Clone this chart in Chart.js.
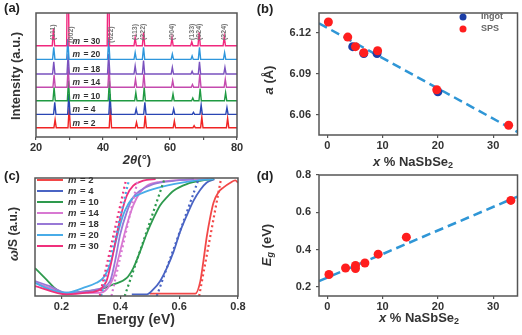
<!DOCTYPE html>
<html>
<head>
<meta charset="utf-8">
<script src="https://cdn.jsdelivr.net/npm/chart.js@4.4.1/dist/chart.umd.min.js"></script>
<style>
html, body { margin: 0; padding: 0; background: #fff; }
#wrap { position: relative; width: 522px; height: 335px; }
canvas { position: absolute; left: 0; top: 0; }
</style>
</head>
<body>
<div id="wrap">
  <canvas id="ca" width="522" height="335"></canvas>
  <canvas id="cb" width="522" height="335"></canvas>
  <canvas id="cc" width="522" height="335"></canvas>
  <canvas id="cd" width="522" height="335"></canvas>
</div>
<script>
const FONT = 'Arial, "Liberation Sans", sans-serif'

// ---- shared series
const mValues = ['2', '4', '10', '14', '18', '20', '30']
const colorsA = ['#f02424', '#2a46b4', '#1f9a42', '#c44aae', '#7a52be', '#2e96dc', '#f0287e']
const colorsC = ['#f24848', '#4a64c4', '#2e9a4e', '#d878d2', '#9878d6', '#48ace8', '#f0307c']

// ---- (a) XRD
const hkl = ['(111)', '(002)', '(022)', '(113)', '(222)', '(004)', '(133)', '(024)', '(224)']
const peaks2 = [25.7, 29.9, 42.2, 50.0, 52.6, 61.3, 67.2, 69.5, 77.2]
const peaks4 = [25.6, 29.8, 42.1, 49.9, 52.5, 61.1, 67.0, 69.3, 77.0]
const peaks10 = [25.4, 29.7, 41.9, 49.8, 52.3, 60.9, 66.8, 69.0, 76.6]
const peaks14 = [25.4, 29.6, 41.8, 49.7, 52.2, 60.8, 66.7, 68.9, 76.5]
const peaks18 = [25.3, 29.6, 41.7, 49.6, 52.1, 60.7, 66.6, 68.8, 76.4]
const peaks20 = [25.3, 29.5, 41.7, 49.6, 52.1, 60.7, 66.6, 68.8, 76.3]
const peaks30 = [25.2, 29.5, 41.6, 49.6, 52.1, 60.6, 66.5, 68.7, 76.2]
const height2 = [0.6, 1.5, 1.5, 0.4, 0.9, 0.5, 0.15, 0.8, 0.7]
const height4 = [0.9, 1.5, 1.5, 0.4, 0.9, 0.4, 0.15, 0.7, 0.5]
const height10 = [1.0, 1.5, 1.5, 0.6, 1.0, 0.5, 0.2, 0.9, 0.6]
const height14 = [0.9, 1.5, 1.5, 0.6, 1.0, 0.5, 0.2, 1.0, 0.6]
const height18 = [0.9, 1.5, 1.5, 0.6, 1.0, 0.5, 0.2, 0.9, 0.5]
const height20 = [0.9, 1.5, 1.5, 0.5, 0.9, 0.4, 0.25, 0.9, 0.5]
const height30 = [1.3, 9.0, 9.0, 0.6, 1.0, 0.6, 0.3, 1.0, 0.7]
const xrdOffsets = [0.69, 1.68, 2.69, 3.69, 4.67, 5.76, 6.77]
const xrdTicks = [20, 30, 40, 50, 60, 70, 80]

// ---- (b) lattice parameter
const ingotX = [4.6, 6.6, 9.0, 20.0]
const ingotY = [6.110, 6.105, 6.105, 6.077]
const spsX = [0.2, 3.7, 5.1, 6.6, 9.1, 19.8, 32.8]
const spsY = [6.128, 6.117, 6.110, 6.1055, 6.107, 6.0785, 6.0525]
const fitBX = [-1.5, 34.4]
const fitBY = [6.1271, 6.0476]
const xTicksBD = [0, 10, 20, 30]
const yTicksB = [6.06, 6.09, 6.12]

// ---- (c) optical absorption (energy, value)
const abs2 = [[0.50, 0.02], [0.655, 0.02], [0.672, 0.127], [0.683, 0.31], [0.694, 0.51], [0.706, 0.68], [0.717, 0.80], [0.734, 0.89], [0.751, 0.93], [0.774, 0.97], [0.791, 0.99], [0.80, 0.97]]
const abs4 = [[0.439, 0.014], [0.49, 0.014], [0.512, 0.056], [0.535, 0.127], [0.558, 0.239], [0.581, 0.38], [0.603, 0.549], [0.626, 0.69], [0.649, 0.817], [0.672, 0.91], [0.694, 0.972], [0.72, 1.0]]
const abs10 = [[0.11, 0.239], [0.149, 0.141], [0.183, 0.056], [0.217, 0.02], [0.274, 0.037], [0.331, 0.056], [0.376, 0.099], [0.422, 0.155], [0.444, 0.239], [0.467, 0.38], [0.49, 0.535], [0.512, 0.662], [0.535, 0.775], [0.558, 0.845], [0.581, 0.901], [0.626, 0.958], [0.672, 0.986], [0.717, 1.0]]
const abs14 = [[0.11, 0.113], [0.16, 0.07], [0.217, 0.02], [0.274, 0.028], [0.331, 0.028], [0.376, 0.155], [0.399, 0.38], [0.422, 0.606], [0.444, 0.775], [0.467, 0.887], [0.49, 0.944], [0.535, 0.977], [0.626, 0.994], [0.70, 1.0]]
const abs18 = [[0.11, 0.127], [0.16, 0.085], [0.217, 0.028], [0.274, 0.037], [0.319, 0.056], [0.365, 0.127], [0.382, 0.296], [0.399, 0.521], [0.422, 0.718], [0.444, 0.845], [0.467, 0.901], [0.512, 0.958], [0.581, 0.986], [0.65, 1.0]]
const abs20 = [[0.11, 0.113], [0.16, 0.056], [0.217, 0.028], [0.274, 0.07], [0.319, 0.113], [0.342, 0.155], [0.365, 0.268], [0.382, 0.437], [0.399, 0.606], [0.416, 0.732], [0.439, 0.831], [0.467, 0.873], [0.512, 0.915], [0.581, 0.958], [0.649, 0.986], [0.717, 1.0]]
const abs30 = [[0.11, 0.085], [0.217, 0.014], [0.285, 0.028], [0.331, 0.056], [0.353, 0.127], [0.37, 0.296], [0.3875, 0.521], [0.405, 0.718], [0.422, 0.859], [0.444, 0.944], [0.467, 0.977], [0.49, 0.994], [0.52, 1.0]]
const edge2 = [[0.668, 0], [0.742, 1.0]]
const edge4 = [[0.524, 0], [0.666, 1.0]]
const edge10 = [[0.415, 0], [0.55, 1.0]]
const edge14 = [[0.37, 0], [0.46, 1.0]]
const edge20 = [[0.335, 0], [0.43, 1.0]]
const edge30 = [[0.33, 0], [0.42, 1.0]]
const xTicksC = [0.2, 0.4, 0.6, 0.8]

// ---- (d) band gap
const gapX = [0.3, 3.3, 5.1, 5.1, 6.8, 9.2, 14.3, 33.2]
const gapY = [0.267, 0.302, 0.299, 0.316, 0.329, 0.376, 0.467, 0.664]
const fitDX = [-1.5, 34.4]
const fitDY = [0.2313, 0.6847]
const yTicksD = [0.2, 0.4, 0.6, 0.8]

// ---------------------------------------------------------------
const pts = (xs, ys) => xs.map((x, i) => ({x, y: ys[i]}))
const pairs = (arr) => arr.map(p => ({x: p[0], y: p[1]}))

const xrdLine = (pos, h, base) => {
  const out = [{x: 20, y: base}]
  pos.forEach((p, i) => {
    out.push({x: p - 0.35, y: base}, {x: p, y: base + h[i]}, {x: p + 0.35, y: base})
  })
  out.push({x: 80, y: base})
  return out
}

const tickFont = {family: FONT, size: 11, weight: 'bold'}
const gridOpts = {drawOnChartArea: false, tickLength: 3, color: '#555', lineWidth: 1.2}

const xAxis = (min, max, ticks, fmt) => ({
  type: 'linear', min, max,
  afterBuildTicks: s => { s.ticks = ticks.map(v => ({value: v})) },
  afterFit: s => { s.height = 20 },
  grid: gridOpts,
  border: {display: false},
  ticks: {font: tickFont, color: '#333', padding: 1, maxRotation: 0, autoSkip: false, callback: fmt}
})

const yAxis = (min, max, ticks, fmt) => ({
  type: 'linear', min, max,
  afterBuildTicks: s => { s.ticks = ticks.map(v => ({value: v})) },
  afterFit: s => { s.width = 40 },
  grid: gridOpts,
  border: {display: false},
  ticks: {font: tickFont, color: '#333', padding: 5, autoSkip: false, callback: fmt}
})

const base = (pad, scales) => ({
  responsive: false, animation: false, devicePixelRatio: 1,
  layout: {padding: pad},
  plugins: {legend: {display: false}, tooltip: {enabled: false}},
  scales
})

// text with mixed fonts, centred on (x, y)
const rich = (ctx, parts, x, y, rot, color) => {
  let w = 0
  parts.forEach(p => { ctx.font = p[1]; w += ctx.measureText(p[0]).width })
  ctx.save()
  ctx.translate(x, y)
  ctx.rotate(rot || 0)
  ctx.fillStyle = color || '#333'
  ctx.textBaseline = 'middle'
  ctx.textAlign = 'left'
  let cx = -w / 2
  parts.forEach(p => {
    ctx.font = p[1]
    ctx.fillText(p[0], cx, p[2] || 0)
    cx += ctx.measureText(p[0]).width
  })
  ctx.restore()
}

const decor = (draw) => ({
  id: 'decor',
  afterDraw(chart) {
    const {ctx, chartArea: a} = chart
    ctx.save()
    ctx.strokeStyle = '#555'
    ctx.lineWidth = 1.5
    ctx.strokeRect(a.left, a.top, a.right - a.left, a.bottom - a.top)
    draw(chart, ctx)
    ctx.restore()
  }
})

const B = (s) => `bold ${s}px ${FONT}`
const BI = (s) => `italic bold ${s}px ${FONT}`
const upright = -Math.PI / 2
const xLabel = [['x', BI(13)], [' % NaSbSe', B(13)], ['2', B(9), 4]]

// ---- (a)
const peaksA = [peaks2, peaks4, peaks10, peaks14, peaks18, peaks20, peaks30]
const heightsA = [height2, height4, height10, height14, height18, height20, height30]

new Chart('ca', {
  type: 'scatter',
  data: {
    datasets: peaksA.map((p, i) => ({
      data: xrdLine(p, heightsA[i], xrdOffsets[i]),
      showLine: true, pointRadius: 0, borderColor: colorsA[i], borderWidth: 1.4,
      tension: 0, order: 6 - i
    }))
  },
  options: base({left: 36, right: 285, top: 13, bottom: 178}, {
    x: xAxis(20, 80, xrdTicks, v => (v % 20 === 0 ? v : '')),
    y: {type: 'linear', min: 0, max: 9.2, display: false}
  }),
  plugins: [decor((chart, ctx) => {
    const sx = chart.scales.x, sy = chart.scales.y
    // m = labels
    mValues.forEach((m, i) => {
      const y = sy.getPixelForValue(xrdOffsets[i]) - 4.5
      ctx.fillStyle = '#333'
      ctx.textBaseline = 'middle'
      ctx.textAlign = 'left'
      ctx.font = BI(8.5)
      const x0 = sx.getPixelForValue(30.9)
      ctx.fillText('m', x0, y)
      ctx.font = B(8.5)
      ctx.fillText(' = ' + m, x0 + ctx.measureText('m').width + 1, y)
    })
    // hkl labels above the top pattern
    hkl.forEach((t, i) => {
      const top = Math.min(xrdOffsets[6] + height30[i] + 0.25, 7.2)
      const clipped = height30[i] > 3
      const x = sx.getPixelForValue(peaks30[i] + (clipped ? 0.9 : 0))
      const y = sy.getPixelForValue(clipped ? 7.0 : top)
      ctx.save()
      ctx.translate(x, y)
      ctx.rotate(upright)
      ctx.fillStyle = '#777'
      ctx.font = B(7)
      ctx.textAlign = 'left'
      ctx.textBaseline = 'middle'
      ctx.fillText(t, 0, 0)
      ctx.restore()
    })
    rich(ctx, [['(a)', B(13)]], 12, 8, 0, '#222')
    rich(ctx, [['Intensity (a.u.)', B(13)]], 16, 76, upright)
    rich(ctx, [['2θ', BI(13)], ['(°)', B(13)]], 137, 160, 0)
  })]
})

// ---- (b)
new Chart('cb', {
  type: 'scatter',
  data: {
    datasets: [
      {data: pts(spsX, spsY), backgroundColor: '#ff1e1e', borderWidth: 0, pointRadius: 4.5, order: 0},
      {data: pts(ingotX, ingotY), backgroundColor: '#1c3ea6', borderWidth: 0, pointRadius: 4.5, order: 1},
      {data: pts(fitBX, fitBY), showLine: true, pointRadius: 0, borderColor: '#2f96d6', borderWidth: 2.5,
        borderDash: [9, 5], order: 2}
    ]
  },
  options: base({left: 279, right: 4, top: 13, bottom: 180}, {
    x: xAxis(-1.5, 34.4, xTicksBD, v => v),
    y: yAxis(6.0454, 6.1346, yTicksB, v => v.toFixed(2))
  }),
  plugins: [decor((chart, ctx) => {
    ctx.fillStyle = '#1c3ea6'
    ctx.beginPath(); ctx.arc(463, 17, 3.5, 0, Math.PI * 2); ctx.fill()
    ctx.fillStyle = '#ff1e1e'
    ctx.beginPath(); ctx.arc(463, 29, 3.5, 0, Math.PI * 2); ctx.fill()
    ctx.fillStyle = '#666'
    ctx.font = B(9)
    ctx.textAlign = 'left'
    ctx.textBaseline = 'middle'
    ctx.fillText('Ingot', 481, 17)
    ctx.fillText('SPS', 481, 29)
    rich(ctx, [['(b)', B(13)]], 265, 9, 0, '#222')
    rich(ctx, [['a', BI(13)], [' (Å)', B(13)]], 269, 80, upright)
    rich(ctx, xLabel, 413, 162, 0)
  })]
})

// ---- (c)
const absC = [abs2, abs4, abs10, abs14, abs18, abs20, abs30]
const edgeC = [[edge2, 0], [edge4, 1], [edge10, 2], [edge14, 3], [edge20, 5], [edge30, 6]]

new Chart('cc', {
  type: 'scatter',
  data: {
    datasets: [
      ...absC.map((a, i) => ({
        data: pairs(a), showLine: true, pointRadius: 0, borderColor: colorsC[i], borderWidth: 1.8,
        cubicInterpolationMode: 'monotone', order: 20 - i
      })),
      ...edgeC.map(e => ({
        data: pairs(e[0]), showLine: true, pointRadius: 0, borderColor: colorsC[e[1]], borderWidth: 2.2,
        borderDash: [2, 3], order: 10 - e[1]
      }))
    ]
  },
  options: base({left: 35, right: 284, top: 178, bottom: 19}, {
    x: xAxis(0.11, 0.8, xTicksC, v => v.toFixed(1)),
    y: {type: 'linear', min: 0, max: 1.01, display: false}
  }),
  plugins: [decor((chart, ctx) => {
    mValues.forEach((m, i) => {
      const y = 180 + i * 11
      ctx.strokeStyle = colorsC[i]
      ctx.lineWidth = 2
      ctx.beginPath(); ctx.moveTo(37, y); ctx.lineTo(63, y); ctx.stroke()
      ctx.fillStyle = '#333'
      ctx.textAlign = 'left'
      ctx.textBaseline = 'middle'
      ctx.font = BI(9.5)
      ctx.fillText('m', 68, y)
      ctx.font = B(9.5)
      ctx.fillText(' = ' + m, 68 + ctx.measureText('m').width + 1, y)
    })
    rich(ctx, [['(c)', B(13)]], 12, 176, 0, '#222')
    rich(ctx, [['ω', BI(13)], ['/S (a.u.)', B(12)]], 14, 234, upright)
    rich(ctx, [['Energy (eV)', B(14)]], 136, 320, 0)
  })]
})

// ---- (d)
new Chart('cd', {
  type: 'scatter',
  data: {
    datasets: [
      {data: pts(gapX, gapY), backgroundColor: '#ff1e1e', borderWidth: 0, pointRadius: 4.5, order: 0},
      {data: pts(fitDX, fitDY), showLine: true, pointRadius: 0, borderColor: '#2f96d6', borderWidth: 2.5,
        borderDash: [9, 5], order: 1}
    ]
  },
  options: base({left: 279, right: 4, top: 175, bottom: 19}, {
    x: xAxis(-1.5, 34.4, xTicksBD, v => v),
    y: yAxis(0.152, 0.8, yTicksD, v => v.toFixed(1))
  }),
  plugins: [decor((chart, ctx) => {
    rich(ctx, [['(d)', B(13)]], 265, 176, 0, '#222')
    rich(ctx, [['E', BI(13)], ['g', BI(9), 4], [' (eV)', B(13)]], 267, 245, upright)
    rich(ctx, xLabel, 419, 318, 0)
  })]
})
</script>
</body>
</html>
